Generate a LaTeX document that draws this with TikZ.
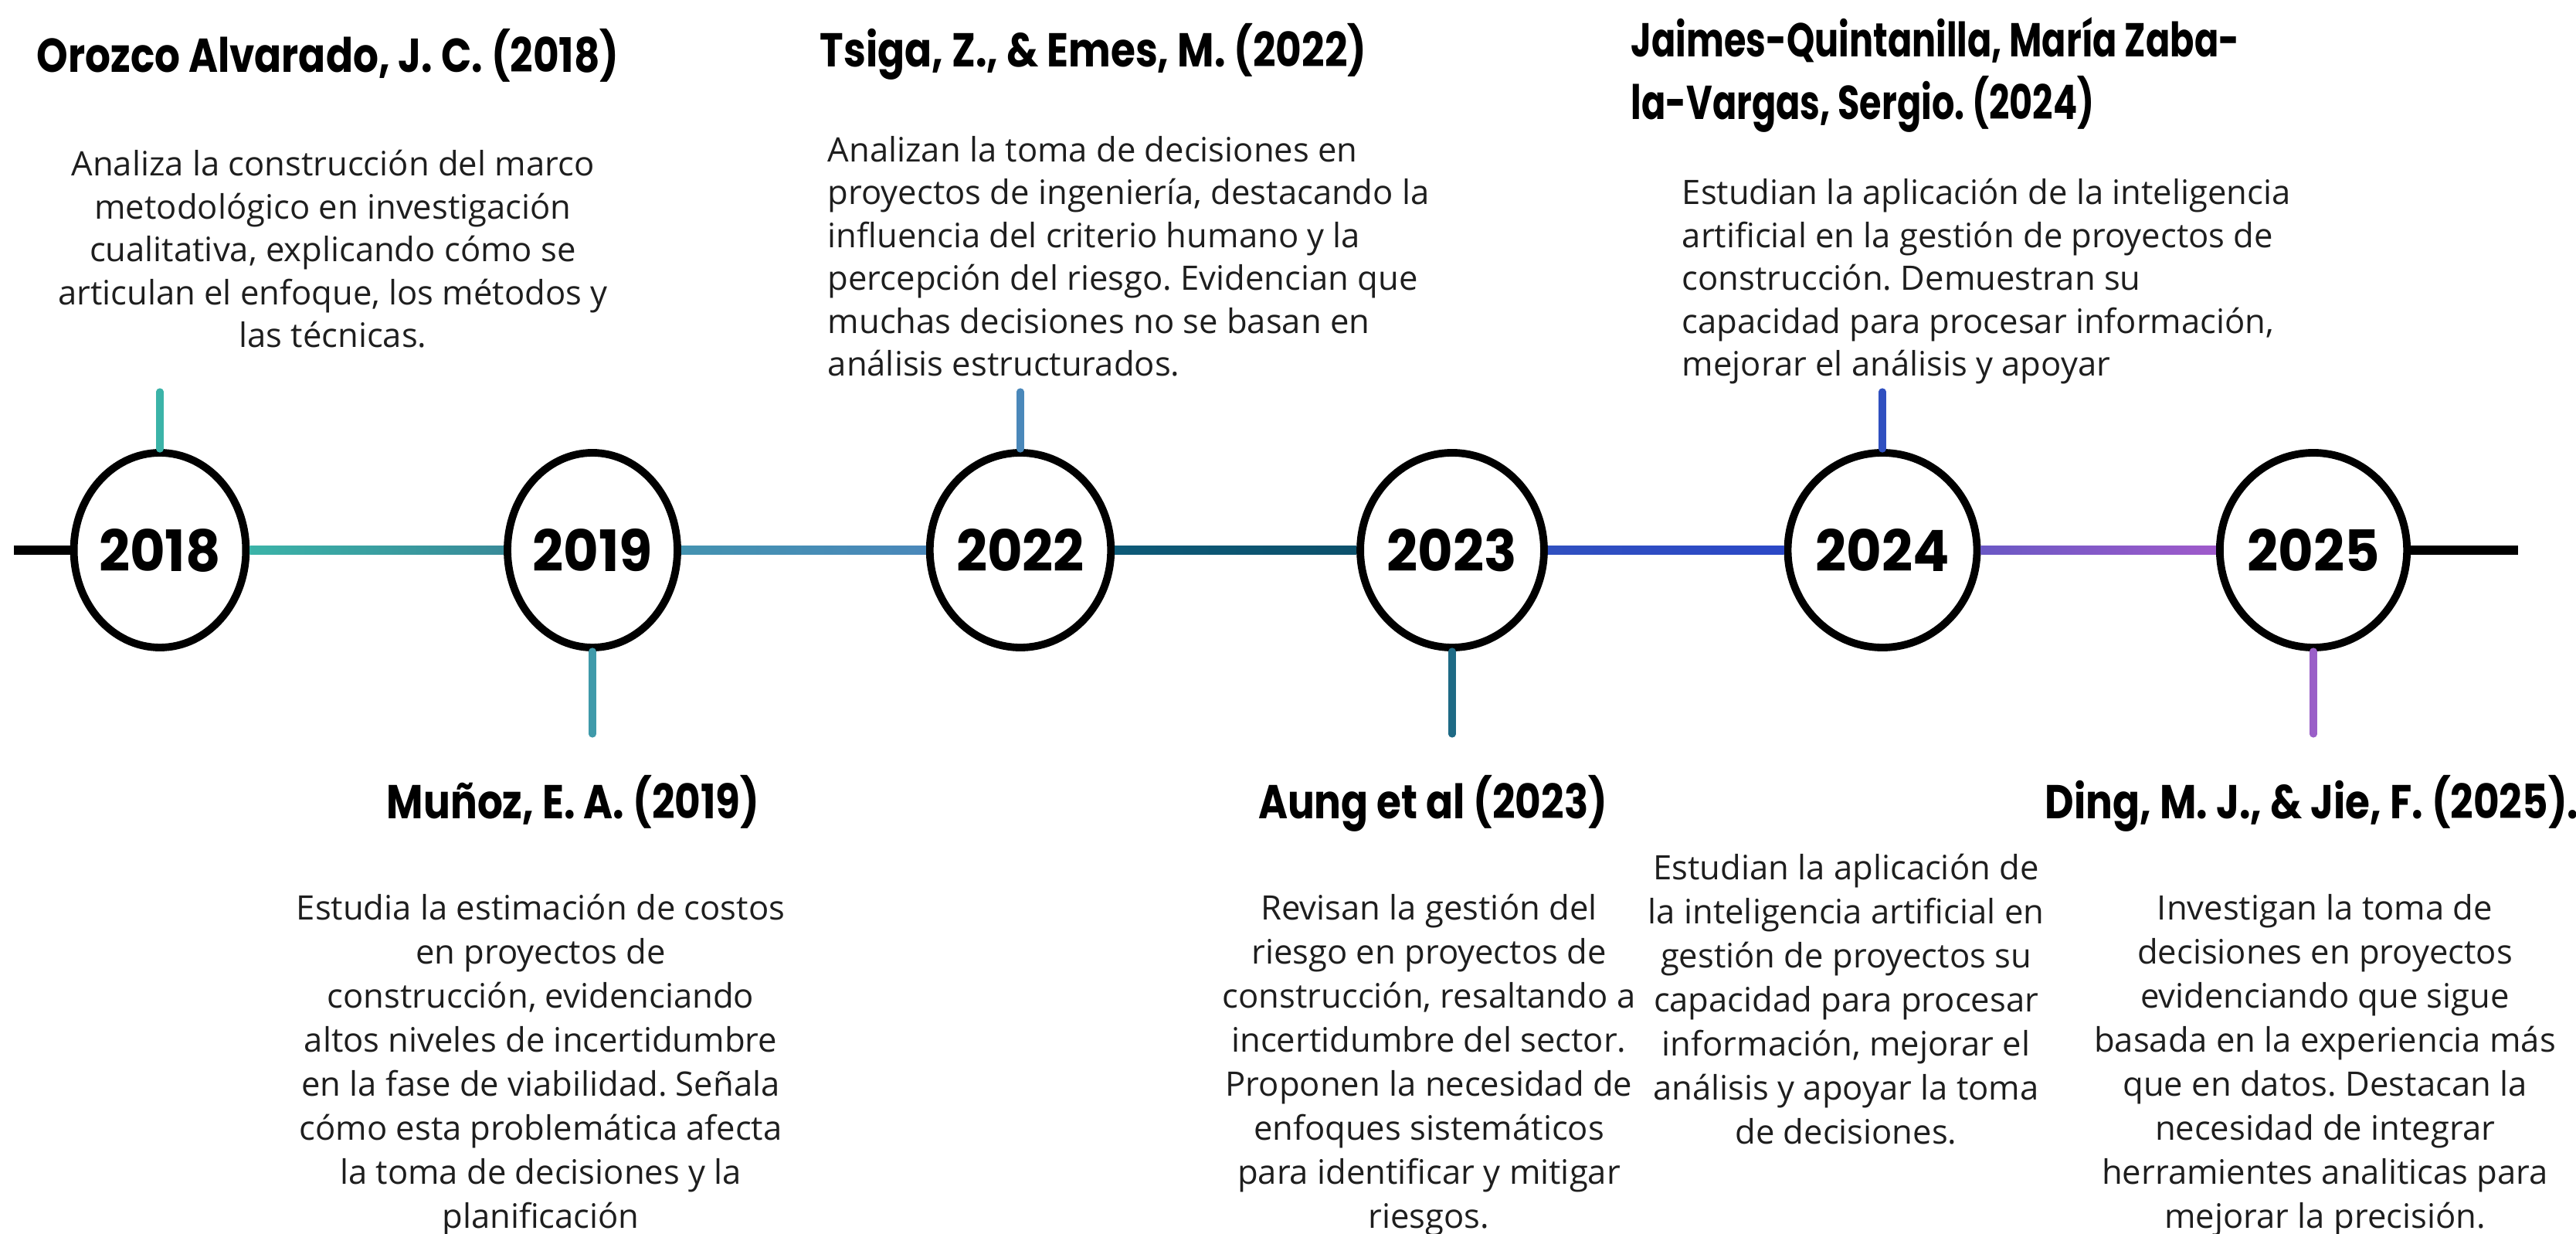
\documentclass[tikz,border=0pt]{standalone}
\usepackage{fontspec}
\setmainfont{Open Sans}
\newfontfamily\headfont{Poppins}[FakeStretch=0.84]
\newfontfamily\narrowhead{Poppins}[FakeStretch=0.75]
\newfontfamily\yearfont{Poppins}[FakeStretch=0.95]
\usetikzlibrary{shapes.geometric}
\frenchspacing

\definecolor{textgray}{HTML}{1E1E1E}
\definecolor{teal18}{HTML}{3BB3A8}
\definecolor{teal19}{HTML}{3F9AAA}
\definecolor{blue22}{HTML}{4A88BA}
\definecolor{dark23}{HTML}{1E6A85}
\definecolor{deep23}{HTML}{0D5A78}
\definecolor{blue24}{HTML}{3050C0}
\definecolor{violet25}{HTML}{9A5FC8}

\begin{document}
\begin{tikzpicture}[line width=1pt,
  year/.style={ellipse, draw, line width=2.8pt, fill=white, minimum width=2.2cm,
    minimum height=2.52cm, inner sep=0pt, font=\yearfont\bfseries\fontsize{21}{21}\selectfont},
  head/.style={inner sep=0pt, font=\headfont\bfseries\fontsize{17.5}{23.2}\selectfont},
  body/.style={inner sep=0pt, text=textgray, font=\fontsize{12.4}{15.8}\selectfont},
  lowbody/.style={body, align=center, anchor=base, font=\fontsize{12.4}{16.2}\selectfont},
  tick/.style={line width=2.6pt, line cap=round}]

  \useasboundingbox (0,0) rectangle (33.35,15.96);

  % years on the line
  \node[year] (y18) at (2.07,8.84){2018};
  \node[year] (y19) at (7.67,8.84){2019};
  \node[year] (y22) at (13.21,8.84){2022};
  \node[year] (y23) at (18.80,8.84){2023};
  \node[year] (y24) at (24.37,8.84){2024};
  \node[year] (y25) at (29.95,8.84){2025};

  \coordinate (start) at (0.18,8.84);
  \coordinate (end) at (32.60,8.84);
  \draw[line width=3.4pt] (start) -- (y18.west);
  \draw[line width=3.4pt] (y25.east) -- (end);

  \shade[left color=teal18, right color=teal19!90!black] ([yshift=-1.7pt]y18.east) rectangle ([yshift=1.7pt]y19.west);
  \shade[left color=teal19!60!blue22, right color=blue22] ([yshift=-1.7pt]y19.east) rectangle ([yshift=1.7pt]y22.west);
  \shade[left color=deep23, right color=deep23!90!black] ([yshift=-1.7pt]y22.east) rectangle ([yshift=1.7pt]y23.west);
  \shade[left color=blue24, right color=blue24!90!blue] ([yshift=-1.7pt]y23.east) rectangle ([yshift=1.7pt]y24.west);
  \shade[left color=blue24!45!violet25, right color=violet25!95!magenta] ([yshift=-1.7pt]y24.east) rectangle ([yshift=1.7pt]y25.west);

  % ticks
  \coordinate (t18) at (2.07,10.89);
  \coordinate (t19) at (7.67,6.46);
  \coordinate (t22) at (13.21,10.89);
  \coordinate (t23) at (18.80,6.46);
  \coordinate (t24) at (24.37,10.89);
  \coordinate (t25) at (29.95,6.46);
  \draw[tick, teal18] (y18.north) -- (t18);
  \draw[tick, teal19] (y19.south) -- (t19);
  \draw[tick, blue22] (y22.north) -- (t22);
  \draw[tick, dark23] (y23.south) -- (t23);
  \draw[tick, blue24] (y24.north) -- (t24);
  \draw[tick, violet25] (y25.south) -- (t25);

  % top texts (base = last line)
  \node[head, anchor=base west] (h18) at (0.46,15.02){Orozco Alvarado, J. C. (2018)};
  \node[body, align=center, anchor=base] (b18) at (4.31,11.46){Analiza la construcción del marco\\
    metodológico en investigación\\ cualitativa, explicando cómo se\\
    articulan el enfoque, los métodos y\\ las técnicas.};

  \node[head, anchor=base west] (h22) at (10.60,15.09){Tsiga, Z., \& Emes, M. (2022)};
  \node[body, align=left, anchor=base west] (b22) at (10.70,11.09){Analizan la toma de decisiones en\\
    proyectos de ingeniería, destacando la\\ influencia del criterio humano y la\\
    percepción del riesgo. Evidencian que\\ muchas decisiones no se basan en\\
    análisis estructurados.};

  \node[head, align=left, anchor=base west, font=\narrowhead\bfseries\fontsize{17.5}{23.2}\selectfont]
    (h24) at (21.10,14.41){Jaimes-Quintanilla, María Zaba-\\ la-Vargas, Sergio. (2024)};
  \node[body, align=left, anchor=base west] (b24) at (21.76,11.09){Estudian la aplicación de la inteligencia\\
    artificial en la gestión de proyectos de\\ construcción. Demuestran su\\
    capacidad para procesar información,\\ mejorar el análisis y apoyar};

  % bottom texts
  \node[head, anchor=base] (h19) at (7.42,5.36){Muñoz, E. A. (2019)};
  \node[lowbody] (b19) at (7.00,0.07){Estudia la estimación de costos\\ en proyectos de\\
    construcción, evidenciando\\ altos niveles de incertidumbre\\
    en la fase de viabilidad. Señala\\ cómo esta problemática afecta\\
    la toma de decisiones y la\\ planificación};

  \node[head, anchor=base] (h23) at (18.55,5.36){Aung et al (2023)};
  \node[lowbody] (b23) at (18.50,0.07){Revisan la gestión del\\ riesgo en proyectos de\\
    construcción, resaltando a\\ incertidumbre del sector.\\
    Proponen la necesidad de\\ enfoques sistemáticos\\
    para identificar y mitigar\\ riesgos.};

  \node[lowbody] (b24b) at (23.90,1.16){Estudian la aplicación de\\ la inteligencia artificial en\\
    gestión de proyectos su\\ capacidad para procesar\\ información, mejorar el\\
    análisis y apoyar la toma\\ de decisiones.};

  \node[head, anchor=base] (h25) at (29.93,5.36){Ding, M. J., \& Jie, F. (2025).};
  \node[lowbody] (b25) at (30.10,0.07){Investigan la toma de\\ decisiones en proyectos\\
    evidenciando que sigue\\ basada en la experiencia más\\ que en datos. Destacan la\\
    necesidad de integrar\\ herramientes analiticas para\\ mejorar la precisión.};

\end{tikzpicture}
\end{document}
